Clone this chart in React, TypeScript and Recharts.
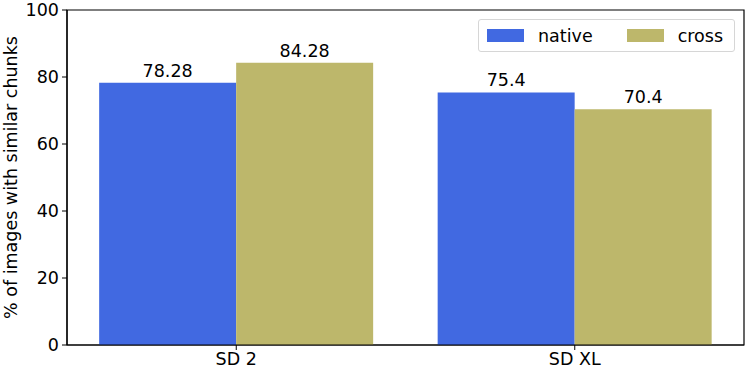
import { BarChart, Bar, XAxis, YAxis, LabelList, ReferenceArea } from "recharts";

const models = ["SD 2", "SD XL"];
const nativeValues = [78.28, 75.4];
const crossValues = [84.28, 70.4];
const yTicks = [0, 20, 40, 60, 80, 100];

const NATIVE = "#4169E1";
const CROSS = "#BDB76B";
const FONT = "'DejaVu Sans', sans-serif";
const FS = 17.5;

const data = models.map((model, i) => ({
  model,
  native: nativeValues[i],
  cross: crossValues[i],
}));

// legend drawn as an overlay so it doesn't shrink the plot area
const LegendBox = () => (
  <div
    style={{
      position: "absolute",
      top: 19,
      left: 478,
      width: 257,
      height: 33,
      boxSizing: "border-box",
      display: "flex",
      alignItems: "center",
      border: "1px solid #d6d6d6",
      borderRadius: 3,
      background: "white",
      padding: "0 0 0 8px",
      fontFamily: FONT,
      fontSize: FS,
      color: "black",
    }}
  >
    <span style={{ width: 37, height: 13, background: NATIVE, display: "inline-block" }} />
    <span style={{ marginLeft: 14, marginRight: 34 }}>native</span>
    <span style={{ width: 37, height: 13, background: CROSS, display: "inline-block" }} />
    <span style={{ marginLeft: 14 }}>cross</span>
  </div>
);

export default function App() {
  const tickStyle = { fontSize: FS, fill: "black", fontFamily: FONT };
  return (
    <div style={{ position: "absolute", left: 0, top: 0, background: "white" }}>
      <BarChart
        width={747}
        height={374}
        data={data}
        margin={{ top: 10, right: 3, left: 0, bottom: 0 }}
        barCategoryGap="9.5%"
        barGap={0}
      >
        <XAxis
          dataKey="model"
          height={29}
          tick={tickStyle}
          tickLine={{ stroke: "black" }}
          tickSize={5}
          tickMargin={3}
          axisLine={{ stroke: "black", strokeWidth: 1.2 }}
        />
        <YAxis
          width={67}
          domain={[0, 100]}
          ticks={yTicks}
          tick={tickStyle}
          tickLine={{ stroke: "black" }}
          tickSize={5}
          tickMargin={3}
          axisLine={{ stroke: "black", strokeWidth: 1.2 }}
          label={{
            value: "% of images with similar chunks",
            angle: -90,
            position: "insideLeft",
            offset: 11,
            style: { textAnchor: "middle", fontSize: FS, fill: "black", fontFamily: FONT },
          }}
        />
        <Bar dataKey="native" fill={NATIVE} isAnimationActive={false}>
          <LabelList
            dataKey="native"
            position="top"
            offset={6}
            style={{ fontSize: FS, fill: "black", fontFamily: FONT }}
          />
        </Bar>
        <Bar dataKey="cross" fill={CROSS} isAnimationActive={false}>
          <LabelList
            dataKey="cross"
            position="top"
            offset={6}
            style={{ fontSize: FS, fill: "black", fontFamily: FONT }}
          />
        </Bar>
        <ReferenceArea
          y1={0}
          y2={100}
          fill="none"
          stroke="black"
          strokeWidth={1.2}
          ifOverflow="visible"
        />
      </BarChart>
      <LegendBox />
    </div>
  );
}
